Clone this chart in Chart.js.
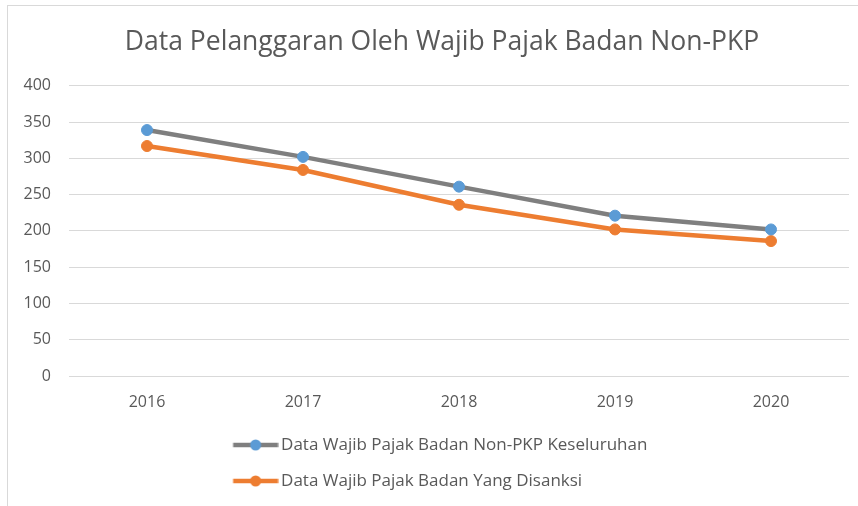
<!DOCTYPE html>
<html>
<head>
<meta charset="utf-8">
<script src="https://cdn.jsdelivr.net/npm/chart.js@4"></script>
<style>
  html, body { margin: 0; padding: 0; background: #ffffff; overflow: hidden; }
  #wrap { position: relative; width: 858px; height: 506px; }
  #frame { position: absolute; left: 7px; top: 5px; right: -2px; bottom: -2px; border-left: 1px solid #d9d9d9; border-top: 1px solid #d9d9d9; pointer-events: none; }
  canvas { position: absolute; left: 0; top: 0; }
</style>
</head>
<body>
<div id="wrap">
  <canvas id="c" width="858" height="506"></canvas>
  <div id="frame"></div>
</div>
<script>
const titleText = 'Data Pelanggaran Oleh Wajib Pajak Badan Non-PKP';
const categories = ['2016', '2017', '2018', '2019', '2020'];
const seriesNames = ['Data Wajib Pajak Badan Non-PKP Keseluruhan', 'Data Wajib Pajak Badan Yang Disanksi'];
const totalValues = [339, 302, 261, 221, 202];
const sanctionedValues = [317, 284, 236, 202, 186];
const yTickMin = 0;
const yTickMax = 400;
const yTickStep = 50;

const FONT = "'Open Sans', 'Noto Sans', sans-serif";
const TEXT = '#595959';
const TITLE_SHIFT = 7;

function legendIcon(lineColor, dotColor) {
  const c = document.createElement('canvas');
  c.width = 62; c.height = 14;
  const g = c.getContext('2d');
  g.strokeStyle = lineColor;
  g.lineWidth = 4.5;
  g.lineCap = 'butt';
  g.beginPath(); g.moveTo(16.5, 7); g.lineTo(61.5, 7); g.stroke();
  g.fillStyle = dotColor;
  g.beginPath(); g.arc(39, 7, 5.5, 0, Math.PI * 2); g.fill();
  return c;
}
const icons = [legendIcon('#7f7f7f', '#5b9bd5'), legendIcon('#ed7d31', '#ed7d31')];

const layoutTweaks = {
  id: 'layoutTweaks',
  afterLayout(chart) {
    const t = chart.titleBlock;
    if (t) { t.left += TITLE_SHIFT; t.right += TITLE_SHIFT; }
  },
  beforeDraw(chart) {
    const lg = chart.legend;
    if (lg && lg.lineWidths && lg.lineWidths.length > 1) {
      const w = Math.max(...lg.lineWidths);
      lg.lineWidths = lg.lineWidths.map(() => w);
    }
  }
};

new Chart(document.getElementById('c'), {
  type: 'line',
  data: {
    labels: categories,
    datasets: [
      {
        label: seriesNames[0],
        data: totalValues,
        borderColor: '#7f7f7f',
        borderWidth: 4.5,
        pointBackgroundColor: '#5b9bd5',
        pointBorderColor: '#5b9bd5',
        pointBorderWidth: 1,
        pointRadius: 5.5,
        tension: 0,
        fill: false
      },
      {
        label: seriesNames[1],
        data: sanctionedValues,
        borderColor: '#ed7d31',
        borderWidth: 4.5,
        pointBackgroundColor: '#ed7d31',
        pointBorderColor: '#ed7d31',
        pointBorderWidth: 1,
        pointRadius: 5.5,
        tension: 0,
        fill: false
      }
    ]
  },
  options: {
    responsive: false,
    animation: false,
    devicePixelRatio: 1,
    layout: { padding: { left: 21, right: 9, top: 0, bottom: 6.5 } },
    plugins: {
      title: {
        display: true,
        text: titleText,
        color: TEXT,
        font: { family: FONT, size: 26.5, weight: '400' },
        padding: { top: 27, bottom: 27 }
      },
      legend: {
        display: true,
        position: 'bottom',
        align: 'center',
        labels: {
          usePointStyle: true,
          pointStyleWidth: 50,
          padding: 19,
          color: TEXT,
          font: { family: FONT, size: 17 },
          generateLabels(chart) {
            return Chart.defaults.plugins.legend.labels.generateLabels(chart).map((l, i) => Object.assign(l, { pointStyle: icons[i] }));
          }
        }
      },
      tooltip: { enabled: false }
    },
    scales: {
      x: {
        offset: true,
        grid: { display: false, drawTicks: false },
        border: { display: false },
        ticks: { color: TEXT, font: { family: FONT, size: 16 }, padding: 17 },
        afterFit(scale) { scale.height = 41.5; }
      },
      y: {
        min: yTickMin,
        max: yTickMax,
        grid: { color: '#d9d9d9', lineWidth: 1, drawTicks: false },
        border: { display: false },
        ticks: { stepSize: yTickStep, color: TEXT, font: { family: FONT, size: 16 }, padding: 18 },
        afterFit(scale) { scale.width = 48; }
      }
    }
  },
  plugins: [layoutTweaks]
});
</script>
</body>
</html>
